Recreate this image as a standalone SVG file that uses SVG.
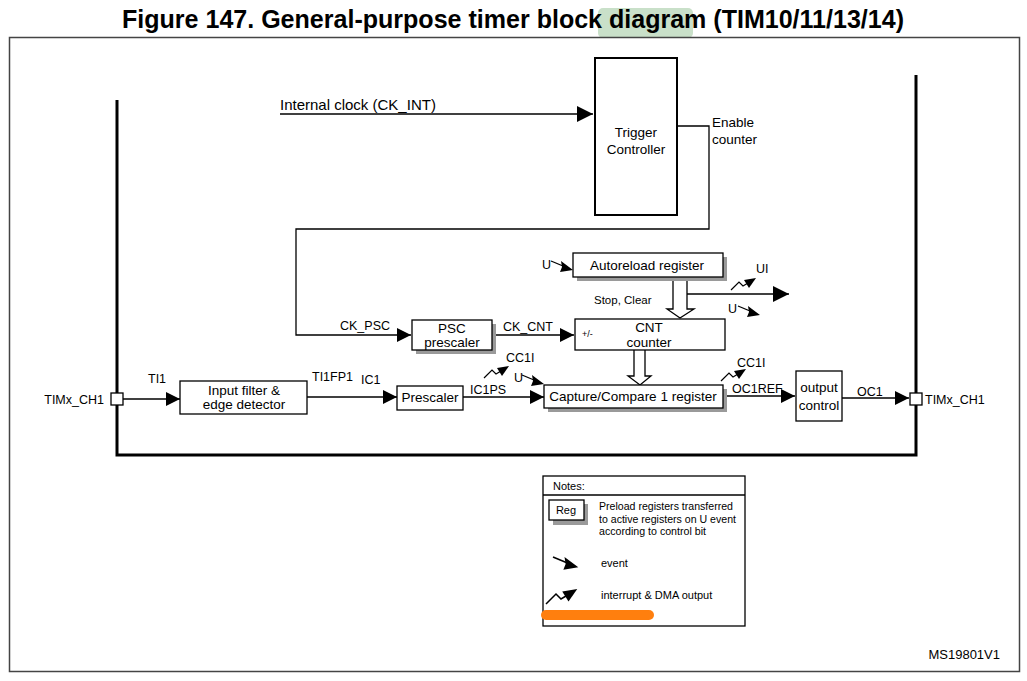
<svg xmlns="http://www.w3.org/2000/svg" width="1027" height="681" viewBox="0 0 1027 681">
<style>
text{font-family:"Liberation Sans",Arial,sans-serif;fill:#000}
.lbl{font-size:12.5px}
.t{font-size:13.5px}
.box{fill:#fff;stroke:#000;stroke-width:1.3}
.shadow{fill:#9a9a9a}
.ln{fill:none;stroke:#000;stroke-width:1.3}
.thick{fill:none;stroke:#000;stroke-width:3}
.nt{font-size:11px}
</style>
<defs>
<marker id="arr" markerUnits="userSpaceOnUse" markerWidth="16" markerHeight="16" refX="14" refY="7" orient="auto">
<path d="M0,0 L14,7 L0,14 z" fill="#000"/>
</marker>
<marker id="arrL" markerUnits="userSpaceOnUse" markerWidth="18" markerHeight="18" refX="16" refY="8" orient="auto">
<path d="M0,0 L16,8 L0,16 z" fill="#000"/>
</marker>
<g id="evt">
<path d="M0,0 L12,5" fill="none" stroke="#000" stroke-width="1.3"/>
<path d="M22,9 L10,0 L11,6 L9,11 z" fill="#000"/>
</g>
<g id="irq">
<path d="M0,12 L8,4 L12,8 L17,5" fill="none" stroke="#000" stroke-width="1.2"/>
<path d="M25,0 L13,2 L18,10 z" fill="#000"/>
</g>
</defs>
<rect width="1027" height="681" fill="#fff"/>
<rect x="598" y="8" width="95" height="30" rx="5" fill="#c9e0c9"/>
<text x="513" y="28" text-anchor="middle" font-size="25" font-weight="bold" textLength="782" lengthAdjust="spacingAndGlyphs">Figure 147. General-purpose timer block diagram (TIM10/11/13/14)</text>
<rect x="9.5" y="37.5" width="1010" height="634" fill="none" stroke="#444" stroke-width="1.5"/>

<g id="connectors">
<path class="thick" d="M117,100 L117,455 L916,455 L916,75"/>
<path class="ln" d="M280,114 L593,114" marker-end="url(#arrL)"/>
<path class="ln" d="M677,126 L709,126 L709,229 L296,229 L296,335 L411,335" marker-end="url(#arr)"/>
<path class="ln" d="M492,335 L574,335" marker-end="url(#arr)"/>
<path class="ln" d="M123,399 L180,399" marker-end="url(#arr)"/>
<path class="ln" d="M307,397 L397,397" marker-end="url(#arr)"/>
<path class="ln" d="M463,397 L544,397" marker-end="url(#arr)"/>
<path class="ln" d="M723,396 L795,396" marker-end="url(#arr)"/>
<path class="ln" d="M842,398 L909,398" marker-end="url(#arr)"/>
<path class="ln" d="M687,294 L789,294" marker-end="url(#arrL)"/>
<path d="M673,277 L673,309 L667,309 L680,318 L694,309 L687,309 L687,277" fill="#fff" stroke="#000" stroke-width="1.3"/>
<path d="M634,350 L634,376 L628,376 L640,385 L651,376 L645,376 L645,350" fill="#fff" stroke="#000" stroke-width="1.3"/>
<use href="#evt" x="551" y="261"/>
<use href="#evt" x="738" y="306"/>
<use href="#evt" x="522" y="375"/>
<use href="#irq" x="731" y="278"/>
<use href="#irq" x="484" y="366"/>
<use href="#irq" x="721" y="369"/>
</g>

<g id="labels">
<text x="280" y="110" font-size="15">Internal clock (CK_INT)</text>
<text x="712" y="127" class="t">Enable</text>
<text x="712" y="144" class="t">counter</text>
<text x="340" y="330" class="lbl">CK_PSC</text>
<text x="503" y="331" class="lbl">CK_CNT</text>
<text x="542" y="269" class="lbl">U</text>
<text x="594" y="304" font-size="11.5">Stop, Clear</text>
<text x="756" y="273" class="lbl">UI</text>
<text x="728" y="313" class="lbl">U</text>
<text x="148" y="383" class="lbl">TI1</text>
<text x="312" y="381" class="lbl">TI1FP1</text>
<text x="361" y="384" class="lbl">IC1</text>
<text x="470" y="394" class="lbl">IC1PS</text>
<text x="506" y="362" class="lbl">CC1I</text>
<text x="514" y="382" class="lbl">U</text>
<text x="737" y="367" class="lbl">CC1I</text>
<text x="732" y="393" class="lbl">OC1REF</text>
<text x="857" y="396" class="lbl">OC1</text>
<text x="104" y="404" class="lbl" text-anchor="end">TIMx_CH1</text>
<text x="925" y="404" class="lbl">TIMx_CH1</text>
<text x="1000" y="659" font-size="13" text-anchor="end">MS19801V1</text>
</g>

<g id="pin-left"><rect x="111" y="393" width="12" height="12" class="box"/></g>
<g id="pin-right"><rect x="910" y="393" width="12" height="12" class="box"/></g>

<g id="trigger-controller">
<rect x="595" y="58" width="82" height="157" fill="#fff" stroke="#000" stroke-width="2"/>
<text x="636" y="137" class="t" text-anchor="middle">Trigger</text>
<text x="636" y="154" class="t" text-anchor="middle">Controller</text>
</g>

<g id="autoreload">
<rect x="577" y="257" width="150" height="24" class="shadow"/>
<rect x="573" y="253" width="150" height="24" class="box"/>
<text x="647" y="270" class="t" text-anchor="middle">Autoreload register</text>
</g>

<g id="psc">
<rect x="416" y="324" width="80" height="30" class="shadow"/>
<rect x="412" y="320" width="80" height="30" class="box"/>
<text x="452" y="333" class="t" text-anchor="middle">PSC</text>
<text x="452" y="347" class="t" text-anchor="middle">prescaler</text>
</g>

<g id="cnt">
<rect x="575" y="319" width="150" height="31" class="box"/>
<text x="582" y="337" font-size="9">+/-</text>
<text x="649" y="332" class="t" text-anchor="middle">CNT</text>
<text x="649" y="347" class="t" text-anchor="middle">counter</text>
</g>

<g id="input-filter">
<rect x="180" y="381" width="127" height="33" class="box"/>
<text x="244" y="395" class="t" text-anchor="middle">Input filter &amp;</text>
<text x="244" y="409" class="t" text-anchor="middle">edge detector</text>
</g>

<g id="prescaler">
<rect x="397" y="386" width="66" height="24" class="box"/>
<text x="430" y="402" class="t" text-anchor="middle">Prescaler</text>
</g>

<g id="capture-compare">
<rect x="548" y="389" width="179" height="23" class="shadow"/>
<rect x="544" y="385" width="179" height="23" class="box"/>
<text x="633" y="401" class="t" text-anchor="middle">Capture/Compare 1 register</text>
</g>

<g id="output-control">
<rect x="796" y="371" width="46" height="50" class="box"/>
<text x="819" y="392" class="t" text-anchor="middle">output</text>
<text x="819" y="410" class="t" text-anchor="middle">control</text>
</g>

<g id="notes">
<rect x="543" y="476" width="202" height="150" class="box"/>
<line x1="543" y1="495" x2="745" y2="495" class="ln"/>
<text x="553" y="490" class="nt">Notes:</text>
<rect x="553" y="504" width="35" height="21" class="shadow"/>
<rect x="549" y="500" width="35" height="20" class="box"/>
<text x="566" y="514" class="nt" text-anchor="middle">Reg</text>
<text x="599" y="510" class="nt" textLength="134" lengthAdjust="spacingAndGlyphs">Preload registers transferred</text>
<text x="599" y="523" class="nt" textLength="137" lengthAdjust="spacingAndGlyphs">to active registers on U event</text>
<text x="599" y="535" class="nt" textLength="107" lengthAdjust="spacingAndGlyphs">according to control bit</text>
<use href="#evt" transform="translate(553,557) scale(1.15)"/>
<text x="601" y="567" class="nt">event</text>
<use href="#irq" transform="translate(546,589) scale(1.25)"/>
<text x="601" y="599" class="nt">interrupt &amp; DMA output</text>
<line x1="546" y1="615" x2="649" y2="615" stroke="#ff7f0e" stroke-width="10" stroke-linecap="round"/>
</g>
</svg>
